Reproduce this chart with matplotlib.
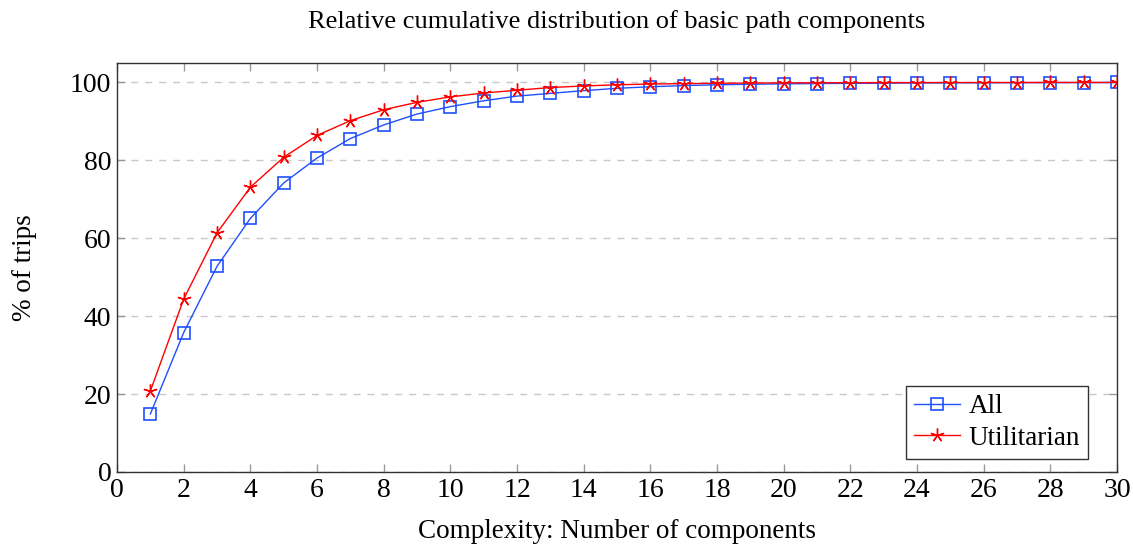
import matplotlib.pyplot as plt
import numpy as np

plt.rcParams['font.family'] = ['Liberation Serif', 'DejaVu Serif']

# number of components
complexity = list(range(1, 31))

# cumulative % of trips, all trips
all_trips = [14.9, 35.8, 52.8, 65.1, 74.2, 80.6, 85.6, 89.1, 91.9, 93.8,
             95.3, 96.5, 97.2, 97.9, 98.5, 98.9, 99.2, 99.4, 99.55, 99.65,
             99.72, 99.78, 99.83, 99.87, 99.9, 99.93, 99.95, 99.97, 99.98, 100.0]

# cumulative % of trips, utilitarian trips
utilitarian = [20.8, 44.4, 61.4, 73.1, 80.8, 86.4, 90.2, 93.0, 94.9, 96.3,
               97.3, 98.0, 98.7, 99.1, 99.4, 99.6, 99.7, 99.8, 99.85, 99.9,
               99.92, 99.94, 99.96, 99.97, 99.98, 99.99, 99.99, 100.0, 100.0, 100.0]

fig = plt.figure(figsize=(11.33, 5.44), dpi=100)
ax = fig.add_axes([0.1033, 0.1324, 0.8826, 0.7518])

ax.plot(complexity, all_trips, color='#1f4fff', lw=1.0, marker='s', markersize=9,
        markerfacecolor='none', markeredgecolor='#1f4fff', markeredgewidth=1.2, label='All')
ax.plot(complexity, utilitarian, color='red', lw=1.0, marker=(5, 2, 0), markersize=10,
        markeredgecolor='red', markeredgewidth=1.0, label='Utilitarian')

ax.set_xlim(0, 30)
ax.set_ylim(0, 105)
ax.set_xticks(np.arange(0, 31, 2))
ax.set_yticks(np.arange(0, 101, 20))
ax.yaxis.grid(True, linestyle=(0, (5, 5)), color='#c8c8c8', lw=1.0)
ax.set_axisbelow(True)

ax.tick_params(direction='in', length=6, width=1, color='#999999', labelsize=20,
               top=True, right=True, pad=4)
for s in ax.spines.values():
    s.set_linewidth(1.0)
    s.set_color('#333333')

ax.set_title('Relative cumulative distribution of basic path components', fontsize=19, pad=25)
ax.set_xlabel('Complexity: Number of components', fontsize=19.5, labelpad=12)
ax.set_ylabel('% of trips', fontsize=19.5, labelpad=24)

leg = ax.legend(loc='lower right', bbox_to_anchor=(0.971, 0.032), fontsize=19.5, frameon=True,
                fancybox=False, edgecolor='#333333', framealpha=1, borderpad=0.3,
                handlelength=1.7, labelspacing=0.25, handletextpad=0.3, borderaxespad=0)
leg.get_frame().set_linewidth(1.0)

fig.savefig('out.png', dpi=100)
